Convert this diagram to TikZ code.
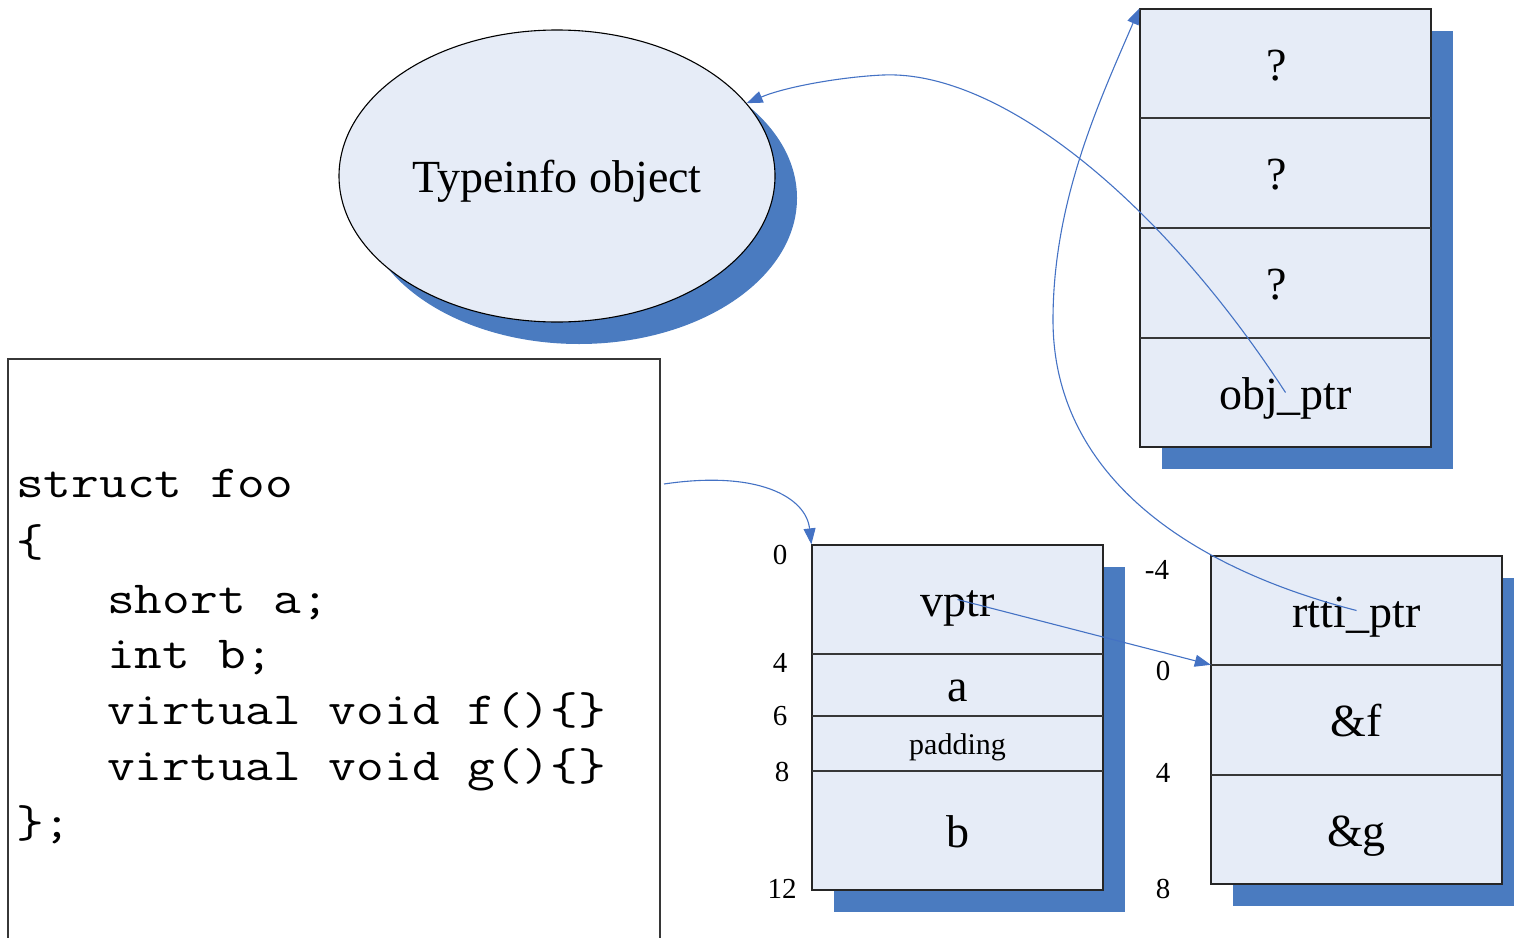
\documentclass[tikz,border=0pt]{standalone}
\usepackage{fontspec}
\setmainfont{Liberation Serif}
\usepackage{graphicx}
\usetikzlibrary{shapes.geometric,shadows,arrows.meta}

\definecolor{cellfill}{RGB}{230,236,247}
\definecolor{shadowblue}{RGB}{74,123,192}
\definecolor{linkblue}{RGB}{68,114,196}
\definecolor{rulegray}{RGB}{55,55,55}

\tikzset{
  blueshadow/.style={general shadow={fill=shadowblue, shadow xshift=22pt, shadow yshift=-22pt}},
  frame/.style={rectangle, draw=black!85, line width=1.3pt, fill=cellfill, inner sep=0pt, blueshadow},
  cell/.style={rectangle, inner sep=0pt, minimum width=291pt, text height=33pt, text depth=0pt,
               font=\fontsize{46}{50}\selectfont},
  divider/.style={draw=rulegray, line width=2pt},
  link/.style={draw=linkblue, line width=1.1pt, -{Triangle[length=16pt,width=12pt]}},
  offset/.style={inner sep=0pt, font=\fontsize{29}{32}\selectfont},
  codeline/.style={anchor=base west, inner sep=0pt, font=\fontsize{46}{56}\selectfont\ttfamily},
}
\newcommand{\codetext}[1]{\scalebox{1.17}[1]{#1}}
\newcommand{\slotmark}{?\hspace*{18pt}}

\begin{document}
\begin{tikzpicture}[x=1pt, y=-1pt]
\useasboundingbox (0,0) rectangle (1514,937);
\clip (0,0) rectangle (1514,937);

% type information object
\node[ellipse, draw=black, line width=1.1pt, fill=cellfill, blueshadow,
      minimum width=436pt, minimum height=292pt, inner sep=0pt,
      text height=32pt, text depth=0pt,
      font=\fontsize{46}{50}\selectfont] (ti) at (557,176) {Typeinfo object};

% source code of the struct
\node[rectangle, draw=rulegray, line width=1.8pt, minimum width=652pt,
      minimum height=600pt, inner sep=0pt] (code) at (334,659) {};
\node[codeline] (c1) at (16,497) {\codetext{struct foo}};
\node[codeline] (c2) at (16,556) {\codetext{\{}};
\node[codeline] (c3) at (107,613) {\codetext{short a;}};
\node[codeline] (c4) at (107,668) {\codetext{int b;}};
\node[codeline] (c5) at (107,724) {\codetext{virtual void f()\{\}}};
\node[codeline] (c6) at (107,780) {\codetext{virtual void g()\{\}}};
\node[codeline] (c7) at (16,837) {\codetext{\};}};

% block above the vtable
\node[frame, minimum width=291pt, minimum height=438pt] (slots) at (1285.5,228) {};
\node[cell, minimum height=109pt] (q1) at (1285.5,63.5) {\slotmark};
\node[cell, minimum height=110pt] (q2) at (1285.5,173) {\slotmark};
\node[cell, minimum height=110pt] (q3) at (1285.5,283) {\slotmark};
\node[cell, minimum height=109pt] (objptr) at (1285.5,392.5) {obj\_ptr};
\draw[divider] (q1.south west) -- (q1.south east);
\draw[divider] (q2.south west) -- (q2.south east);
\draw[divider] (q3.south west) -- (q3.south east);

% object layout of foo
\node[frame, minimum width=291pt, minimum height=345pt] (foo) at (957.5,717.5) {};
\node[cell, minimum height=109pt] (vptr) at (957.5,599.5) {vptr};
\node[cell, minimum height=62pt] (fa) at (957.5,685) {a};
\node[cell, minimum height=55pt, text height=22pt, font=\fontsize{30}{34}\selectfont] (pad) at (957.5,743.5) {padding};
\node[cell, minimum height=119pt] (fb) at (957.5,830.5) {b};
\draw[divider] (vptr.south west) -- (vptr.south east);
\draw[divider] (fa.south west) -- (fa.south east);
\draw[divider] (pad.south west) -- (pad.south east);

% vtable
\node[frame, minimum width=291pt, minimum height=328pt] (vtbl) at (1356.5,720) {};
\node[cell, minimum height=109pt] (rtti) at (1356.5,610.5) {rtti\_ptr};
\node[cell, minimum height=110pt] (ff) at (1356.5,720) {\&f};
\node[cell, minimum height=109pt] (fg) at (1356.5,829.5) {\&g};
\draw[divider] (rtti.south west) -- (rtti.south east);
\draw[divider] (ff.south west) -- (ff.south east);

% byte offsets
\node[offset] (o0) at (780,555) {0};
\node[offset] (o4) at (780,663) {4};
\node[offset] (o6) at (780,716) {6};
\node[offset] (o8) at (782,772) {8};
\node[offset] (o12) at (782,889) {12};
\node[offset] (v-4) at (1157,570) {-4};
\node[offset] (v0) at (1163,671) {0};
\node[offset] (v4) at (1163,773) {4};
\node[offset] (v8) at (1163,889) {8};

% pointers
\coordinate (codeout) at (664,484);
\draw[link] (codeout) .. controls (758,470) and (806,497) .. (foo.north west);
\draw[link] (vptr.center) -- (ff.north west);
\draw[link] (rtti.center) .. controls (1180,565) and (1053,470) .. (1053,320)
                          .. controls (1053,200) and (1100,100) .. (slots.north west);
\draw[link] (objptr.center) .. controls (1160,200) and (1000,70) .. (883,75)
                            .. controls (840,77) and (785,87) .. (ti.21);
\end{tikzpicture}
\end{document}
